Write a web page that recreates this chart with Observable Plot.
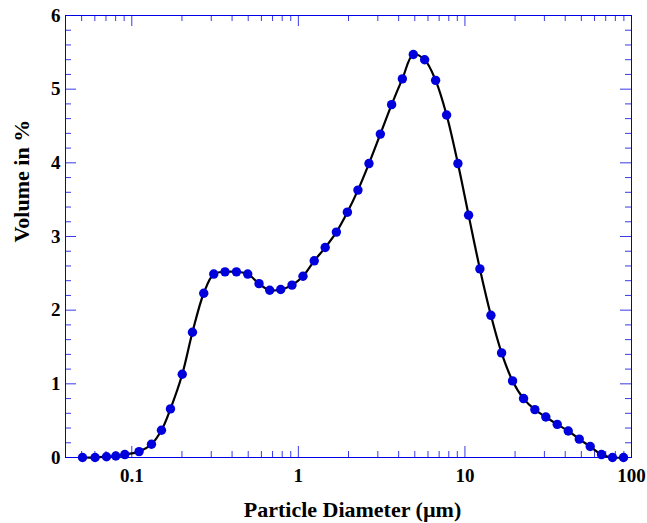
<!DOCTYPE html>
<html><head><meta charset="utf-8">
<script src="https://cdn.jsdelivr.net/npm/d3@7"></script>
<script src="https://cdn.jsdelivr.net/npm/@observablehq/plot@0.6"></script>
<style>body{margin:0;background:#fff}</style>
</head><body><div id="chart"></div>
<script>
// Particle diameters (µm) and volume (%)
const diameters = [0.0506, 0.0602, 0.0705, 0.0802, 0.0908, 0.1106, 0.1313, 0.1507, 0.1707, 0.2009,
  0.2313, 0.2704, 0.3105, 0.3629, 0.4248, 0.4966, 0.5805, 0.673, 0.7834, 0.9158,
  1.066, 1.245, 1.449, 1.691, 1.969, 2.279, 2.654, 3.106, 3.631, 4.21,
  4.899, 5.728, 6.668, 7.762, 9.076, 10.52, 12.3, 14.32, 16.6, 19.32,
  22.49, 26.29, 30.6, 35.83, 41.71, 48.56, 56.52, 66.07, 76.91, 89.54];
const volumes = [0, 0, 0.01, 0.02, 0.04, 0.08, 0.18, 0.37, 0.66, 1.13,
  1.70, 2.23, 2.49, 2.52, 2.52, 2.49, 2.36, 2.27, 2.28, 2.34,
  2.46, 2.67, 2.85, 3.06, 3.33, 3.63, 3.99, 4.39, 4.79, 5.14,
  5.47, 5.40, 5.12, 4.65, 3.99, 3.29, 2.56, 1.93, 1.42, 1.04,
  0.80, 0.65, 0.55, 0.45, 0.36, 0.25, 0.15, 0.04, 0, 0];

const xMajorTicks = [0.1, 1, 10, 100];
const xMinorTicks = [0.05, 0.06, 0.07, 0.08, 0.09, 0.2, 0.3, 0.4, 0.5, 0.6, 0.7, 0.8, 0.9,
  2, 3, 4, 5, 6, 7, 8, 9, 20, 30, 40, 50, 60, 70, 80, 90];
const yMajorTicks = [0, 1, 2, 3, 4, 5, 6];
const yMinorTicks = [0.2, 0.4, 0.6, 0.8, 1.2, 1.4, 1.6, 1.8, 2.2, 2.4, 2.6, 2.8,
  3.2, 3.4, 3.6, 3.8, 4.2, 4.4, 4.6, 4.8, 5.2, 5.4, 5.6, 5.8];
const xLabel = "Particle Diameter (µm)";
const yLabel = "Volume in %";

const W = 647, H = 523, mL = 65, mR = 16, mT = 15, mB = 66;
const innerW = W - mL - mR, innerH = H - mT - mB;
const data = diameters.map((d, i) => ({d, v: volumes[i]}));
const frameColor = "#0000e6";
const tickColor = "#3a3ae6";
const majorLen = 11, minorLen = 6;

const chart = Plot.plot({
  width: W, height: H,
  marginLeft: mL, marginRight: mR, marginTop: mT, marginBottom: mB,
  style: {fontFamily: '"Liberation Serif", "Times New Roman", serif', fontWeight: "bold", fontSize: "19px", color: "#000", background: "#fff"},
  x: {type: "log", domain: [0.04, 100], label: null, axis: null},
  y: {domain: [0, 6], label: null},
  marks: [
    // inside ticks, all four sides
    Plot.ruleX(xMajorTicks, {x: d => d, stroke: tickColor, insetTop: innerH - majorLen}),
    Plot.ruleX(xMinorTicks, {x: d => d, stroke: tickColor, insetTop: innerH - minorLen}),
    Plot.ruleX(xMajorTicks, {x: d => d, stroke: tickColor, insetBottom: innerH - majorLen}),
    Plot.ruleX(xMinorTicks, {x: d => d, stroke: tickColor, insetBottom: innerH - minorLen}),
    Plot.ruleY(yMajorTicks, {y: d => d, stroke: tickColor, insetRight: innerW - majorLen}),
    Plot.ruleY(yMinorTicks, {y: d => d, stroke: tickColor, insetRight: innerW - minorLen}),
    Plot.ruleY(yMajorTicks, {y: d => d, stroke: tickColor, insetLeft: innerW - majorLen}),
    Plot.ruleY(yMinorTicks, {y: d => d, stroke: tickColor, insetLeft: innerW - minorLen}),
    Plot.frame({stroke: frameColor}),
    Plot.text(xMajorTicks, {x: d => d, text: d => String(d), frameAnchor: "bottom", lineAnchor: "top", dy: 11, fontSize: 19, fill: "#000"}),
    Plot.axisY(yMajorTicks, {tickSize: 0, tickPadding: 5, tickFormat: d => String(d), label: null, fill: "#000", fontSize: 19}),
    Plot.line(data, {x: "d", y: "v", curve: "catmull-rom", stroke: "#000", strokeWidth: 2.2}),
    Plot.dot(data, {x: "d", y: "v", r: 4.7, fill: "#0000dd"}),
    Plot.text([xLabel], {text: d => d, frameAnchor: "bottom", lineAnchor: "bottom", dy: 59, dx: 4, fontSize: 22, fill: "#000"}),
    Plot.text([yLabel], {text: d => d, frameAnchor: "left", rotate: -90, lineAnchor: "bottom", dx: -37, dy: 6, fontSize: 22, fill: "#000"})
  ]
});
document.getElementById("chart").appendChild(chart);
</script>
</body></html>
